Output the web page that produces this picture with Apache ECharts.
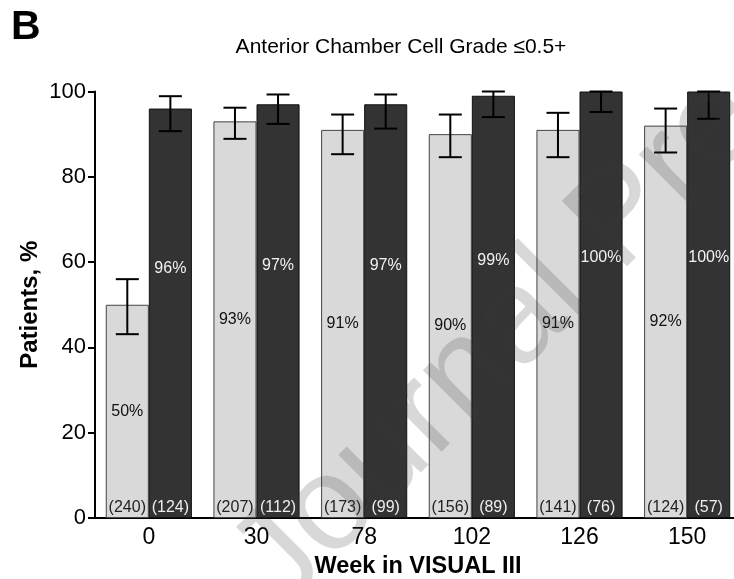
<!DOCTYPE html>
<html>
<head>
<meta charset="utf-8">
<script src="https://cdn.jsdelivr.net/npm/echarts@6/dist/echarts.min.js"></script>
<style>html,body{margin:0;padding:0;background:#fff}#c{width:734px;height:579px}</style>
</head>
<body>
<div id="c"></div>
<script>
var weeks = ['0', '30', '78', '102', '126', '150'];
var lightPct = [50, 93, 91, 90, 91, 92];
var darkPct = [96, 97, 97, 99, 100, 100];
var lightLow = [43.1, 88.9, 85.3, 84.6, 84.6, 85.7];
var lightHigh = [56.0, 96.2, 94.6, 94.6, 95.0, 96.0];
var darkLow = [90.7, 92.4, 91.3, 94.0, 95.2, 93.6];
var darkHigh = [98.9, 99.3, 99.3, 100, 100, 100];
var lightN = [240, 207, 173, 156, 141, 124];
var darkN = [124, 112, 99, 89, 76, 57];

var FONT = "'Liberation Sans', Arial, sans-serif";

function errData(low, high, n) {
  return weeks.map(function (w, i) { return [i, low[i], high[i], n[i]]; });
}

function makeRender(side, textColor) {
  return function (params, api) {
    var i = api.value(0);
    var band = api.size([1, 0])[0];
    var base = api.coord([i, 0]);
    var x = base[0] + side * band * 0.2;
    var yLo = api.coord([i, api.value(1)])[1];
    var yHi = api.coord([i, api.value(2)])[1];
    var cap = 11.5;
    var ls = { stroke: '#000', lineWidth: 2 };
    return {
      type: 'group',
      children: [
        { type: 'line', shape: { x1: x, y1: yLo, x2: x, y2: yHi }, style: ls },
        { type: 'line', shape: { x1: x - cap, y1: yLo, x2: x + cap, y2: yLo }, style: ls },
        { type: 'line', shape: { x1: x - cap, y1: yHi, x2: x + cap, y2: yHi }, style: ls },
        { type: 'text', x: x, y: base[1] - 10,
          style: { text: '(' + api.value(3) + ')', fill: textColor, font: '16px ' + FONT,
                   align: 'center', verticalAlign: 'middle' } }
      ]
    };
  };
}

var chart = echarts.init(document.getElementById('c'), null, { renderer: 'canvas' });
chart.setOption({
  animation: false,
  backgroundColor: '#fff',
  title: {
    text: 'Anterior Chamber Cell Grade \u22640.5+',
    left: 396, top: 32, textAlign: 'center',
    textStyle: { fontFamily: FONT, fontSize: 21, fontWeight: 'normal', color: '#000' }
  },
  graphic: [
    { type: 'text', left: 11, top: 7, z: 10,
      style: { text: 'B', font: 'bold 41px ' + FONT, fill: '#000' } },
    { type: 'text', x: 256, y: 585, rotation: Math.PI / 4, z: 100, silent: true,
      style: { text: 'Journal Pre-proof', font: '134px ' + FONT, fill: 'rgba(60,60,60,0.2)',
               align: 'left', verticalAlign: 'middle' } }
  ],
  grid: { left: 95, right: -7, top: 91.5, bottom: 61, containLabel: false, outerBoundsMode: 'none' },
  xAxis: {
    type: 'category', data: weeks,
    name: 'Week in VISUAL III', nameLocation: 'middle', nameGap: 37,
    nameTextStyle: { fontFamily: FONT, fontSize: 23.5, fontWeight: 'bold', color: '#000' },
    axisLine: { lineStyle: { color: '#000', width: 2 } },
    axisTick: { show: false },
    axisLabel: { fontFamily: FONT, fontSize: 23, color: '#000', margin: 8 }
  },
  yAxis: {
    type: 'value', min: 0, max: 100, interval: 20,
    name: 'Patients, %', nameLocation: 'middle', nameGap: 53, nameRotate: 90, nameMoveOverlap: false,
    nameTextStyle: { fontFamily: FONT, fontSize: 24, fontWeight: 'bold', color: '#000' },
    axisLine: { show: true, lineStyle: { color: '#000', width: 2 } },
    axisTick: { show: true, length: 7, lineStyle: { color: '#000', width: 2 } },
    axisLabel: { fontFamily: FONT, fontSize: 22, color: '#000', margin: 9 },
    splitLine: { show: false }
  },
  series: [
    { type: 'bar', data: lightPct, barWidth: '40%', barGap: '0%',
      itemStyle: { color: '#d9d9d9', borderColor: '#444', borderWidth: 1 },
      label: { show: true, position: ['50%', '50%'], align: 'center', verticalAlign: 'middle',
               formatter: '{c}%', fontFamily: FONT, fontSize: 16, color: '#111' } },
    { type: 'bar', data: darkPct, barWidth: '40%', barGap: '0%',
      itemStyle: { color: '#333333', borderColor: '#111', borderWidth: 1 },
      label: { show: true, position: ['50%', '39%'], align: 'center', verticalAlign: 'middle',
               formatter: '{c}%', fontFamily: FONT, fontSize: 16, color: '#f2f2f2' } },
    { type: 'custom', renderItem: makeRender(-1, '#222'), data: errData(lightLow, lightHigh, lightN), z: 5 },
    { type: 'custom', renderItem: makeRender(1, '#eeeeee'), data: errData(darkLow, darkHigh, darkN), z: 5 }
  ]
});
</script>
</body>
</html>
